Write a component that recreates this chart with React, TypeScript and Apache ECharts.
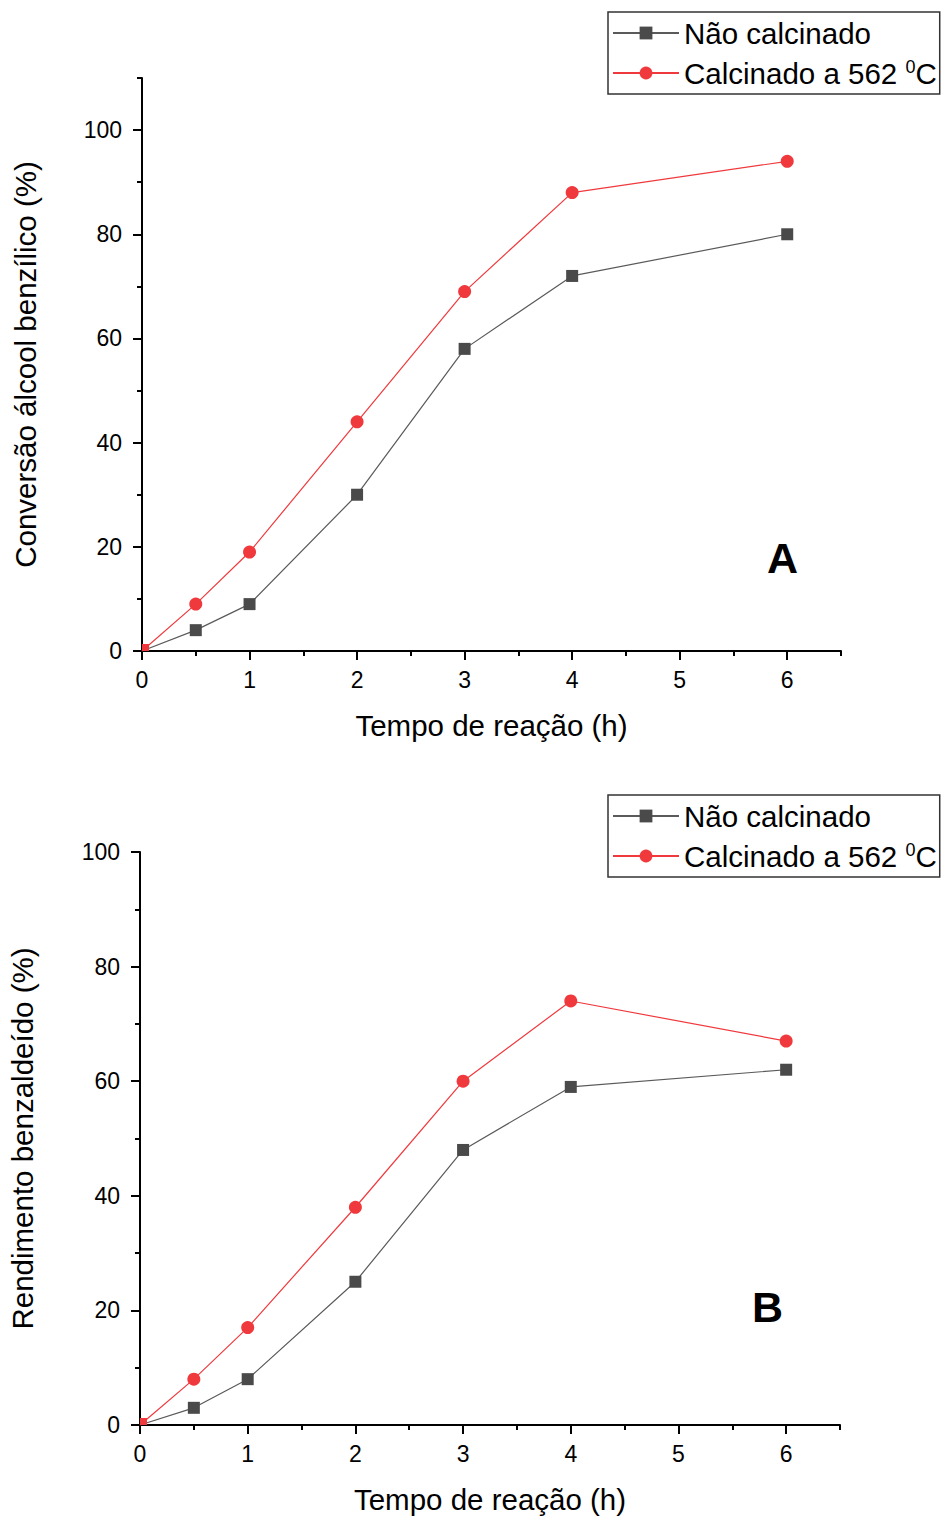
import React, { useEffect, useRef } from "react";
import * as echarts from "echarts";

const times = [0, 0.5, 1, 2, 3, 4, 6];
const convNaoCalc = [0, 4, 9, 30, 58, 72, 80];
const convCalc = [0, 9, 19, 44, 69, 88, 94];
const rendNaoCalc = [0, 3, 8, 25, 48, 59, 62];
const rendCalc = [0, 8, 17, 38, 60, 74, 67];
const xTicks = [0, 1, 2, 3, 4, 5, 6];
const yTicksA = [0, 20, 40, 60, 80, 100];
const yTicksB = [0, 20, 40, 60, 80, 100];
const nameNao = "Não calcinado";
const nameCalc = "Calcinado a 562 0C";

const FONT = "Liberation Sans, Arial, sans-serif";
const GRAY = "#4a4a4a";
const GRAY_LINE = "#5a5a5a";
const RED = "#f0393d";

function buildData(vals: number[], isRed: boolean) {
  return times.map((t, i) => {
    if (i === 0) {
      if (isRed) {
        return { value: [t, vals[i]], symbol: "rect", symbolSize: 7, symbolOffset: [3.5, -3.5] };
      }
      return { value: [t, vals[i]], symbolSize: 0 };
    }
    return [t, vals[i]];
  });
}

function minorAxis(min: number, max: number, interval: number, gridIndex: number, position: string) {
  return {
    type: "value",
    gridIndex,
    position,
    offset: 0,
    min,
    max,
    interval,
    axisLine: { show: true, onZero: false, lineStyle: { color: "#000", width: 2 } },
    axisTick: { show: true, length: 5, lineStyle: { color: "#000", width: 2 } },
    axisLabel: { show: false },
    splitLine: { show: false },
  };
}

function majorAxis(
  min: number,
  max: number,
  interval: number,
  gridIndex: number,
  position: string,
  ticks: number[],
  name: string,
  nameGap: number,
  margin: number
) {
  return {
    type: "value",
    gridIndex,
    position,
    offset: 0,
    min,
    max,
    interval,
    axisLine: { show: false, onZero: false },
    axisTick: { show: true, length: 9, customValues: ticks, lineStyle: { color: "#000", width: 2 } },
    axisLabel: {
      show: true,
      customValues: ticks,
      margin,
      fontSize: 23,
      fontFamily: FONT,
      color: "#000",
      formatter: (v: number) => (ticks.indexOf(v) >= 0 ? String(v) : ""),
    },
    splitLine: { show: false },
    name,
    nameGap,
    nameLocation: "middle",
    nameTextStyle: { fontSize: 29.5, fontFamily: FONT, color: "#000" },
  };
}

function legend(top: number, left: number) {
  return {
    data: [nameNao, nameCalc],
    orient: "vertical",
    left,
    top,
    itemWidth: 66,
    itemHeight: 16,
    itemGap: 10,
    padding: [6, 3, 6, 4],
    borderColor: "#333",
    borderWidth: 1.5,
    backgroundColor: "#fff",
    formatter: (n: string) => (n === nameCalc ? "Calcinado a 562 {sup|0}C" : n),
    textStyle: {
      fontSize: 29.5,
      fontFamily: FONT,
      color: "#000",
      rich: {
        sup: { fontSize: 18, fontFamily: FONT, color: "#000", verticalAlign: "top" },
      },
    },
  };
}

export default function App() {
  const ref = useRef<HTMLDivElement>(null);
  useEffect(() => {
    document.body.style.margin = "0";
    const chart = echarts.init(ref.current!, undefined, { renderer: "svg" });
    const lineSeries = (name: string, vals: number[], isRed: boolean, xi: number, yi: number) => ({
      name,
      type: "line",
      xAxisIndex: xi,
      yAxisIndex: yi,
      data: buildData(vals, isRed),
      symbol: isRed ? "circle" : "rect",
      symbolSize: isRed ? 13 : 12,
      itemStyle: { color: isRed ? RED : GRAY },
      lineStyle: { color: isRed ? RED : GRAY_LINE, width: 1.2 },
      z: isRed ? 3 : 2,
    });
    chart.setOption({
      animation: false,
      backgroundColor: "#fff",
      grid: [
        { left: 142, top: 78, width: 699, height: 573, outerBoundsMode: "none", containLabel: false },
        { left: 140, top: 852, width: 700, height: 573, outerBoundsMode: "none", containLabel: false },
      ],
      xAxis: [
        minorAxis(0, 6.5, 0.5, 0, "bottom"),
        majorAxis(0, 6.5, 1, 0, "bottom", xTicks, "Tempo de reação (h)", 59, 17),
        minorAxis(0, 6.5, 0.5, 1, "bottom"),
        majorAxis(0, 6.5, 1, 1, "bottom", xTicks, "Tempo de reação (h)", 59, 17),
      ],
      yAxis: [
        minorAxis(0, 110, 10, 0, "left"),
        majorAxis(0, 110, 20, 0, "left", yTicksA, "Conversão álcool benzílico (%)", 102, 20),
        minorAxis(0, 100, 10, 1, "left"),
        majorAxis(0, 100, 20, 1, "left", yTicksB, "Rendimento benzaldeído (%)", 103, 20),
      ],
      legend: [legend(12, 608), legend(795, 608)],
      graphic: [
        { type: "text", left: 767, top: 536, style: { text: "A", fontSize: 43, fontWeight: "bold", fontFamily: FONT, fill: "#000" } },
        { type: "text", left: 752, top: 1285, style: { text: "B", fontSize: 43, fontWeight: "bold", fontFamily: FONT, fill: "#000" } },
      ],
      series: [
        lineSeries(nameNao, convNaoCalc, false, 1, 1),
        lineSeries(nameCalc, convCalc, true, 1, 1),
        lineSeries(nameNao, rendNaoCalc, false, 3, 3),
        lineSeries(nameCalc, rendCalc, true, 3, 3),
      ],
    });
    return () => chart.dispose();
  }, []);
  return <div ref={ref} style={{ width: 943, height: 1517 }} />;
}
